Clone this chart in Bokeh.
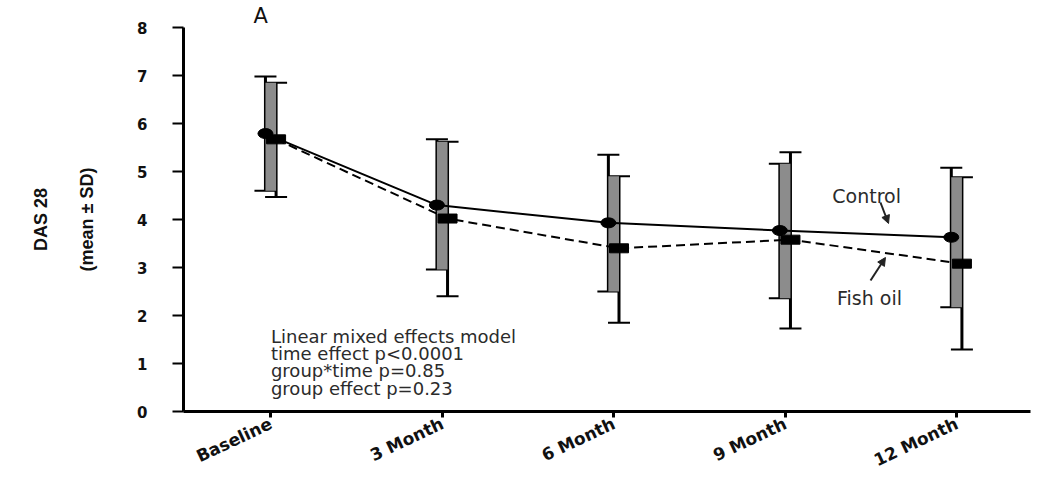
import math
from bokeh.plotting import figure
from bokeh.models import (Range1d, FixedTicker, Whisker, ColumnDataSource, Label,
                          Arrow, NormalHead, TeeHead, Title)
from bokeh.transform import dodge
from bokeh.embed import file_html
from bokeh.resources import INLINE

# ---------------- data ----------------
categories = ["Baseline", "3 Month", "6 Month", "9 Month", "12 Month"]
control_mean = [5.79, 4.30, 3.93, 3.77, 3.63]
control_lower = [4.60, 2.96, 2.50, 2.36, 2.17]
control_upper = [6.98, 5.67, 5.35, 5.16, 5.08]
fish_mean = [5.67, 4.02, 3.40, 3.58, 3.08]
fish_lower = [4.47, 2.40, 1.85, 1.73, 1.29]
fish_upper = [6.85, 5.62, 4.90, 5.40, 4.88]
y_ticks = [0, 1, 2, 3, 4, 5, 6, 7, 8]
stats_lines = ["Linear mixed effects model", "time effect p<0.0001",
               "group*time p=0.85", "group effect p=0.23"]
series_names = ["Control", "Fish oil"]
panel_letter = "A"
y_title = ["DAS 28", "(mean \u00b1 SD)"]

# ---------------- styling ----------------
C_OFF = -0.032
F_OFF = 0.030
FONT = "DejaVu Sans"
TXT = "#2b2b2b"

idx = list(range(len(categories)))
src = ColumnDataSource(dict(
    idx=idx,
    c_mean=control_mean, c_lo=control_lower, c_up=control_upper,
    f_mean=fish_mean, f_lo=fish_lower, f_up=fish_upper,
    band_lo=[max(a, b) for a, b in zip(control_lower, fish_lower)],
    band_hi=[min(a, b) for a, b in zip(control_upper, fish_upper)],
))

p = figure(width=1048, height=484, x_range=Range1d(-0.51, 4.43), y_range=Range1d(0, 8),
           output_backend="svg", toolbar_location=None,
           min_border_left=183, min_border_right=18, min_border_top=27, min_border_bottom=73)
p.outline_line_color = None
p.grid.visible = False
p.background_fill_color = "white"
p.border_fill_color = "white"

# panel letter as the plot title
p.title.text = panel_letter
p.title.align = "left"
p.title.offset = 70
p.title.standoff = 0
p.title.text_font = FONT
p.title.text_font_style = "normal"
p.title.text_font_size = "21px"
p.title.text_color = "#111111"

# grey band between the paired error bars
p.quad(left=dodge("idx", C_OFF), right=dodge("idx", F_OFF), bottom="band_lo", top="band_hi",
       source=src, fill_color="#8c8c8c", line_color=None)

for off, lo, up in [(C_OFF, "c_lo", "c_up"), (F_OFF, "f_lo", "f_up")]:
    w = Whisker(source=src, base=dodge("idx", off), lower=lo, upper=up, dimension="height",
                line_color="black", line_width=3,
                upper_head=TeeHead(size=22, line_width=2, line_color="black"),
                lower_head=TeeHead(size=22, line_width=2, line_color="black"))
    p.add_layout(w)

p.line(x=dodge("idx", C_OFF), y="c_mean", source=src, line_color="black", line_width=2)
p.line(x=dodge("idx", F_OFF), y="f_mean", source=src, line_color="black", line_width=2,
       line_dash="9 5")
p.ellipse(x=dodge("idx", C_OFF), y="c_mean", source=src, width=15, height=10,
          width_units="screen", height_units="screen", fill_color="black", line_color="black")
p.rect(x=dodge("idx", F_OFF), y="f_mean", source=src, width=19, height=9,
       width_units="screen", height_units="screen", fill_color="black", line_color="black")

# ---------------- axes ----------------
p.xaxis.ticker = FixedTicker(ticks=idx)
p.xaxis.major_label_overrides = {i: c for i, c in zip(idx, categories)}
p.xaxis.major_label_orientation = 0.44
p.xaxis.major_label_text_font = FONT
p.xaxis.major_label_text_font_style = "bold"
p.xaxis.major_label_text_font_size = "17px"
p.xaxis.major_label_text_color = "#111111"
p.xaxis.major_label_standoff = 5
p.xaxis.major_tick_in = 0
p.xaxis.major_tick_out = 6
p.xaxis.major_tick_line_width = 3
p.xaxis.minor_tick_line_color = None
p.xaxis.axis_line_width = 3

p.yaxis.ticker = FixedTicker(ticks=y_ticks)
p.yaxis.major_label_text_font = FONT
p.yaxis.major_label_text_font_style = "bold"
p.yaxis.major_label_text_font_size = "15px"
p.yaxis.major_label_text_color = "#111111"
p.yaxis.major_label_standoff = 25
p.yaxis.major_tick_in = 0
p.yaxis.major_tick_out = 11
p.yaxis.major_tick_line_width = 2
p.yaxis.minor_tick_line_color = None
p.yaxis.axis_line_width = 3
p.yaxis.axis_label = y_title[1]
p.yaxis.axis_label_standoff = 37
p.yaxis.axis_label_text_font = "Liberation Sans"
p.yaxis.axis_label_text_font_style = "bold"
p.yaxis.axis_label_text_font_size = "18px"
p.yaxis.axis_label_text_color = "#111111"

p.add_layout(Title(text=y_title[0], align="center", standoff=48, text_font="Liberation Sans",
                   text_font_style="bold", text_font_size="18px", text_color="#111111"), "left")

# ---------------- annotations ----------------
for yv, line in zip([1.5625, 1.208, 0.854, 0.479], stats_lines):
    p.add_layout(Label(x=0.0, y=yv, text=line, text_align="left", text_baseline="alphabetic",
                       text_font=FONT, text_font_size="18px", text_color=TXT))

p.add_layout(Label(x=3.474, y=4.48, text=series_names[0], text_align="center",
                   text_baseline="alphabetic", text_font=FONT, text_font_size="19px",
                   text_color=TXT))
p.add_layout(Label(x=3.491, y=2.375, text=series_names[1], text_align="center",
                   text_baseline="alphabetic", text_font=FONT, text_font_size="19px",
                   text_color=TXT))

p.add_layout(Arrow(x_start=3.555, y_start=4.354, x_end=3.602, y_end=3.917, line_width=2,
                   line_color="#222222",
                   end=NormalHead(size=8, fill_color="#222222", line_color="#222222")))
p.add_layout(Arrow(x_start=3.497, y_start=2.729, x_end=3.584, y_end=3.208, line_width=2,
                   line_color="#222222",
                   end=NormalHead(size=8, fill_color="#222222", line_color="#222222")))

open("out.html", "w").write(file_html(p, INLINE))
